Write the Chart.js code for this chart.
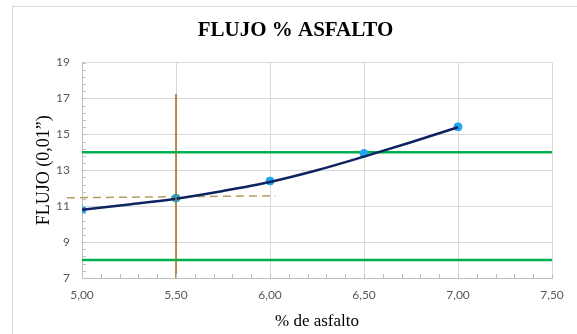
<!DOCTYPE html>
<html>
<head>
<meta charset="utf-8">
<script src="https://cdn.jsdelivr.net/npm/chart.js@4.4.1/dist/chart.umd.min.js"></script>
<style>
  html, body { margin: 0; padding: 0; background: #ffffff; }
  #wrap { width: 577px; height: 334px; position: relative; }
</style>
</head>
<body>
<div id="wrap"><canvas id="c" width="577" height="334"></canvas></div>
<script>
// ---- Data ----
const pctAsfalto = [5.00, 5.50, 6.00, 6.50, 7.00];
const flujo = [10.8, 11.45, 12.4, 13.94, 15.42];

// Polynomial trend curve as drawn in the reference
const trendX = [5.00, 5.25, 5.50, 5.75, 6.00, 6.25, 6.50, 6.75, 7.00];
const trendY = [10.8, 11.1, 11.42, 11.85, 12.35, 13.0, 13.76, 14.56, 15.4];

// Specification limits (green lines)
const limitUpper = 14;
const limitLower = 8;
const limitX = [5.00, 7.50];

// Reading lines at the design asphalt content
const designX = [5.50, 5.50];
const designY = [7, 17.25];
const readX = [4.92, 6.03];
const readY = [11.47, 11.58];

// Axis ticks
const xTickValues = [5.00, 5.50, 6.00, 6.50, 7.00, 7.50];
const xTickLabels = ['5,00', '5,50', '6,00', '6,50', '7,00', '7,50'];
const yTickValues = [7, 9, 11, 13, 15, 17, 19];
const yTickLabels = ['7', '9', '11', '13', '15', '17', '19'];

const toXY = (xs, ys) => xs.map((x, i) => ({ x: x, y: ys[i] }));

const frame = {
  id: 'frame',
  beforeDraw(chart) {
    const ctx = chart.ctx;
    ctx.save();
    ctx.fillStyle = '#ffffff';
    ctx.fillRect(0, 0, chart.width, chart.height);
    ctx.strokeStyle = '#D9D9D9';
    ctx.lineWidth = 1;
    ctx.strokeRect(12.5, 6.5, 700, 500);
    ctx.restore();
  }
};

const minorTicks = {
  id: 'minorTicks',
  afterDraw(chart) {
    const ctx = chart.ctx;
    const xs = chart.scales.x, ys = chart.scales.y;
    const a = chart.chartArea;
    ctx.save();
    ctx.strokeStyle = '#BFBFBF';
    ctx.lineWidth = 1;
    ctx.beginPath();
    for (let i = 0; i <= 30; i++) {
      const v = ys.min + i * 0.4;
      const p = Math.round(ys.getPixelForValue(v)) + 0.5;
      ctx.moveTo(a.left, p); ctx.lineTo(a.left + 4, p);
    }
    for (let i = 0; i <= 25; i++) {
      const v = xs.min + i * 0.1;
      const p = Math.round(xs.getPixelForValue(v)) + 0.5;
      ctx.moveTo(p, a.bottom); ctx.lineTo(p, a.bottom - 4);
    }
    ctx.stroke();
    ctx.restore();
  }
};

new Chart(document.getElementById('c'), {
  type: 'scatter',
  data: {
    datasets: [
      {
        label: 'Tendencia',
        data: toXY(trendX, trendY),
        showLine: true,
        borderColor: '#0E2461',
        borderWidth: 2.5,
        pointRadius: 0,
        tension: 0.4,
        cubicInterpolationMode: 'monotone',
        order: 1
      },
      {
        label: 'Flujo',
        data: toXY(pctAsfalto, flujo),
        showLine: false,
        pointRadius: 4,
        pointBackgroundColor: '#1EA7EA',
        pointBorderColor: '#1EA7EA',
        order: 2
      },
      {
        label: 'Diseño',
        data: toXY(designX, designY),
        showLine: true,
        borderColor: '#9C7A1E',
        borderWidth: 1.6,
        pointRadius: 0,
        order: 0
      },
      {
        label: 'Lectura',
        data: toXY(readX, readY),
        showLine: true,
        borderColor: '#B59D62',
        borderWidth: 1.5,
        borderDash: [8, 5],
        pointRadius: 0,
        clip: false,
        order: 3
      },
      {
        label: 'Límite superior',
        data: toXY(limitX, [limitUpper, limitUpper]),
        showLine: true,
        borderColor: '#00B050',
        borderWidth: 2.5,
        pointRadius: 0,
        order: 4
      },
      {
        label: 'Límite inferior',
        data: toXY(limitX, [limitLower, limitLower]),
        showLine: true,
        borderColor: '#00B050',
        borderWidth: 2.5,
        pointRadius: 0,
        order: 4
      }
    ]
  },
  options: {
    responsive: false,
    animation: false,
    devicePixelRatio: 1,
    layout: { padding: { top: 0, left: 16, right: 2, bottom: 0 } },
    plugins: {
      legend: { display: false },
      tooltip: { enabled: false },
      title: {
        display: true,
        text: 'FLUJO % ASFALTO',
        color: '#000000',
        font: { family: '"Liberation Serif", "Times New Roman", serif', size: 21, weight: 'bold', lineHeight: 1.2 },
        padding: { top: 18, bottom: 19.4 }
      }
    },
    scales: {
      x: {
        type: 'linear',
        min: 5,
        max: 7.5,
        afterFit(s) { s.height = 56; },
        afterBuildTicks(s) { s.ticks = xTickValues.map(v => ({ value: v })); },
        ticks: {
          color: '#595959',
          font: { family: 'Lato, "Liberation Sans", sans-serif', size: 12 },
          padding: 10,
          maxRotation: 0,
          callback: (v) => { const i = xTickValues.findIndex(t => Math.abs(t - v) < 1e-9); return i >= 0 ? xTickLabels[i] : ''; }
        },
        grid: { color: '#D9D9D9', lineWidth: 1, drawTicks: false },
        border: { color: '#BFBFBF', width: 1 },
        title: {
          display: true,
          text: '% de asfalto',
          color: '#000000',
          font: { family: '"Liberation Serif", "Times New Roman", serif', size: 17, lineHeight: 1.2 },
          padding: { top: 0, bottom: 2.3 }
        }
      },
      y: {
        type: 'linear',
        position: 'left',
        min: 7,
        max: 19,
        afterFit(s) { s.width = 66; },
        afterBuildTicks(s) { s.ticks = yTickValues.map(v => ({ value: v })); },
        ticks: {
          color: '#595959',
          font: { family: 'Lato, "Liberation Sans", sans-serif', size: 12 },
          padding: 12,
          callback: (v) => { const i = yTickValues.indexOf(v); return i >= 0 ? yTickLabels[i] : ''; }
        },
        grid: { color: '#D9D9D9', lineWidth: 1, drawTicks: false },
        border: { color: '#BFBFBF', width: 1 },
        title: {
          display: true,
          text: 'FLUJO (0,01”)',
          color: '#000000',
          font: { family: '"Liberation Serif", "Times New Roman", serif', size: 18, lineHeight: 1.2 },
          padding: { top: 17.2, bottom: 0 }
        }
      },
      yRight: {
        type: 'linear',
        position: 'right',
        min: 7,
        max: 19,
        display: true,
        afterFit(s) { s.width = 23; },
        ticks: { display: false },
        grid: { display: false, drawTicks: false },
        border: { display: false }
      }
    }
  },
  plugins: [frame, minorTicks]
});
</script>
</body>
</html>
